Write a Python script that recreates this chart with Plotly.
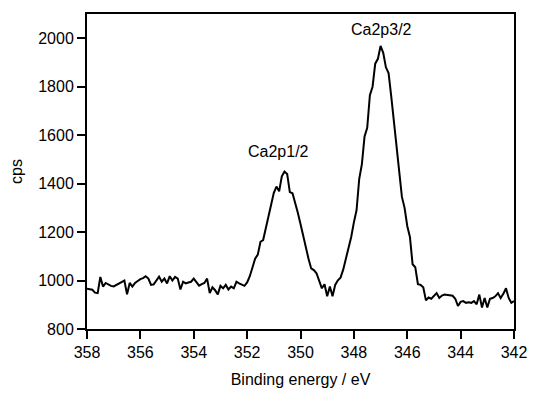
import plotly.graph_objects as go

# Binding energy grid: 358.0 eV down to 342.0 eV, 0.1 eV step
start_ev = 358.0
step_ev = 0.1

cps = [
    966, 964, 962, 950, 948, 1015, 975, 990, 984, 978,
    976, 982, 986, 992, 1000, 943, 990, 975, 990, 998,
    1006, 1010, 1018, 1008, 982, 984, 1000, 1016, 995, 1008,
    988, 1018, 1000, 1015, 1008, 963, 995, 988, 992, 995,
    1008, 993, 979, 985, 990, 1008, 948, 972, 960, 943,
    978, 968, 982, 963, 975, 968, 995, 988, 982, 978,
    992, 1018, 1054, 1090, 1107, 1160, 1167, 1215, 1262, 1312,
    1362, 1388, 1368, 1430, 1450, 1440, 1365, 1360, 1322, 1280,
    1233, 1185, 1125, 1090, 1050, 1043, 1030, 1000, 968, 985,
    935, 975, 935, 982, 1001, 1012, 1045, 1090, 1135, 1180,
    1240, 1290, 1419, 1480, 1595, 1630, 1765, 1800, 1895, 1915,
    1968, 1940, 1880, 1856, 1760, 1650, 1545, 1430, 1345, 1300,
    1225, 1180, 1067, 1055, 985, 982, 972, 918, 930, 925,
    935, 948, 928, 938, 942, 940, 940, 937, 925, 895,
    912, 915, 908, 910, 908, 915, 902, 942, 889, 928,
    889, 925, 928, 935, 948, 928, 945, 968, 928, 908,
    915,
]
energy = [round(start_ev - step_ev * i, 2) for i in range(len(cps))]

x_ticks = [358, 356, 354, 352, 350, 348, 346, 344, 342]
y_ticks = [800, 1000, 1200, 1400, 1600, 1800, 2000]

peak_labels = ["Ca2p1/2", "Ca2p3/2"]
peak_x = [350.84, 346.95]
peak_y = [1531, 2036]

FONT = "Liberation Sans, Arial, sans-serif"

fig = go.Figure()
fig.add_trace(go.Scatter(
    x=energy, y=cps, mode="lines",
    line=dict(color="black", width=2),
    showlegend=False, hoverinfo="skip",
))

for lbl, px, py in zip(peak_labels, peak_x, peak_y):
    fig.add_annotation(x=px, y=py, text=lbl, showarrow=False,
                       font=dict(family=FONT, size=16, color="black"))

axis_common = dict(
    showline=True, linecolor="black", linewidth=2, mirror=True,
    ticks="outside", ticklen=8, tickwidth=2, tickcolor="black",
    showgrid=False, zeroline=False,
    tickfont=dict(family=FONT, size=16, color="black"),
)

fig.update_xaxes(
    range=[358, 342], tickvals=x_ticks, ticktext=[str(v) for v in x_ticks],
    title=dict(text="Binding energy / eV", font=dict(family=FONT, size=16, color="black"), standoff=14),
    **axis_common,
)
fig.update_yaxes(
    range=[800, 2100], tickvals=y_ticks, ticktext=[str(v) for v in y_ticks],
    title=dict(text="cps", font=dict(family=FONT, size=16, color="black"), standoff=12),
    **axis_common,
)

fig.update_layout(
    width=539, height=398,
    margin=dict(l=87, r=16, t=12, b=59),
    paper_bgcolor="white", plot_bgcolor="white",
    font=dict(family=FONT, size=16, color="black"),
)

fig.write_html("out.html")
